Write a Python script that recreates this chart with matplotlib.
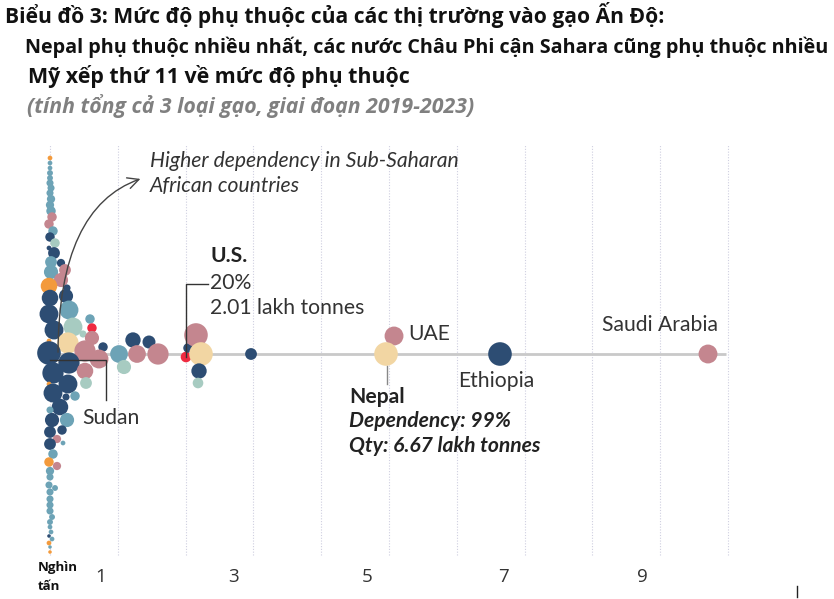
import matplotlib
matplotlib.use("Agg")
import matplotlib.pyplot as plt
from matplotlib.patches import FancyArrowPatch
from matplotlib import font_manager

# ---------------- data ----------------
NAVY, TEAL, LTEAL, MAUVE, CREAM, ORANGE, RED = (
    "#2d4d73", "#6da3b6", "#a7cbc1", "#c4868f", "#f2d6a3", "#f39a3c", "#ef2a40")

# x position (grid units), swarm offset, radius, colour for every country bubble
bub_x = [0.0, 0.0, 0.0, 0.0, 0.0, 0.0, 0.015, 0.0, 0.015, 0.0,
         0.015, 0.03, -0.015, 0.044, 0.0, 0.074, -0.015, 0.059, 0.015, 0.162,
         0.015, 0.221, 0.162, -0.015, 0.251, 0.0, 0.236, 0.28, -0.015, 0.339,
         0.059, 0.59, 0.619, 0.487, 0.619, 0.265, -0.015, -0.015, 0.516, 0.782,
         1.018, 0.723, 0.28, 1.091, 0.044, 0.516, 0.531, 0.265, -0.015, 0.044,
         0.236, 0.369, 0.147, 0.0, 0.03, 0.251, 0.0, 0.177, 0.103, 0.0,
         0.192, 0.044, -0.015, 0.103, 0.0, 0.0, -0.015, 0.074, 0.0, 0.0,
         0.0, 0.0, 0.03, 0.0, 0.0, 0.015, -0.015, 0.03, -0.015, 0.0,
         0.0,
         1.224, 1.283, 1.46, 1.593, 2.006, 2.035, 2.153, 2.227, 2.198, 2.183,
         2.965, 5.074, 4.956, 6.637, 9.705]
bub_y = [196, 191, 186, 181, 176, 171, 166, 161, 155, 149,
         143, 137, 130, 123, 117, 111, 106, 101, 92, 91,
         82, 84, 74, 68, 66, 56, 58, 44, 40, 27,
         24, 35, 26, 20, 16, 11, 13, 1, 3, 7,
         0, -5, -9, -13, -19, -17, -29, -30, -30, -39,
         -43, -42, -53, -56, -66, -66, -78, -76, -85, -90,
         -89, -100, -108, -112, -117, -123, -131, -134, -138, -145,
         -151, -157, -163, -168, -173, -178, -182, -185, -189, -193,
         -198,
         14, 0, 12, 0, -3, 6, 19, 0, -17, -29,
         0, 18, 0, 0, 0]
bub_r = [2, 2, 2, 2.5, 2.5, 3, 3, 3, 3.5, 3.5,
         4, 4, 4, 4, 4, 4, 2, 5, 5, 3.5,
         6, 5, 6, 7, 3, 7, 6, 8, 8, 8,
         8, 4, 4, 3, 6, 9, 2, 10, 9, 4,
         7.5, 8, 9, 6, 9, 7, 5, 8, 2, 8,
         3, 4, 7, 3, 6, 6, 5, 4, 3.5, 5,
         2, 4, 4, 3.5, 3.5, 3, 3, 2.5, 3, 3,
         3, 3, 2.5, 2.5, 2, 2, 1.5, 2, 2, 1.5,
         1.5,
         6.5, 7.5, 5.5, 9, 4.5, 4, 10, 10, 6.5, 4.5,
         5, 8, 10, 10, 8]
bub_c = [ORANGE, TEAL, TEAL, TEAL, TEAL, TEAL, TEAL, TEAL, TEAL, TEAL,
         TEAL, MAUVE, MAUVE, TEAL, NAVY, LTEAL, NAVY, NAVY, TEAL, NAVY,
         TEAL, MAUVE, MAUVE, ORANGE, NAVY, NAVY, NAVY, TEAL, NAVY, LTEAL,
         NAVY, TEAL, RED, LTEAL, MAUVE, CREAM, ORANGE, NAVY, MAUVE, NAVY,
         TEAL, MAUVE, NAVY, LTEAL, NAVY, MAUVE, LTEAL, NAVY, ORANGE, NAVY,
         NAVY, TEAL, NAVY, TEAL, NAVY, TEAL, NAVY, NAVY, MAUVE, NAVY,
         TEAL, TEAL, ORANGE, MAUVE, TEAL, TEAL, TEAL, TEAL, TEAL, TEAL,
         TEAL, TEAL, TEAL, TEAL, TEAL, TEAL, NAVY, TEAL, ORANGE, TEAL,
         ORANGE,
         NAVY, MAUVE, NAVY, MAUVE, RED, NAVY, MAUVE, CREAM, NAVY, LTEAL,
         NAVY, MAUVE, CREAM, NAVY, MAUVE]

tick_pos = [0.74, 2.7, 4.67, 6.69, 8.73]
tick_labels = ["1", "3", "5", "7", "9"]
grid_pos = list(range(0, 11))

title_lines = [
    "Biểu đồ 3: Mức độ phụ thuộc của các thị trường vào gạo Ấn Độ:",
    "Nepal phụ thuộc nhiều nhất, các nước Châu Phi cận Sahara cũng phụ thuộc nhiều",
    "Mỹ xếp thứ 11 về mức độ phụ thuộc",
    "(tính tổng cả 3 loại gạo, giai đoạn 2019-2023)",
]

# ---------------- figure ----------------
W, H, DPI = 834, 599, 100
fig = plt.figure(figsize=(W / DPI, H / DPI), dpi=DPI)
ax = fig.add_axes([0, 0, 1, 1])
PX0, UNIT, BASE = 50.0, 67.8, 354.0
ax.set_xlim((0 - PX0) / UNIT, (W - PX0) / UNIT)
ax.set_ylim(BASE - H, BASE)
ax.axis("off")


def X(px):
    return (px - PX0) / UNIT


def Y(py):
    return BASE - py


avail = {f.name for f in font_manager.fontManager.ttflist}
narrow = [f for f in ["Liberation Sans Narrow", "Open Sans"] if f in avail] + ["DejaVu Sans"]
body = [f for f in ["Lato", "Open Sans"] if f in avail] + ["DejaVu Sans"]

# gridlines and baseline
ax.vlines(grid_pos, Y(555), Y(145), colors="#cfcfe0", linestyles=(0, (1, 1.5)), lw=0.8, zorder=1)
ax.hlines(0, 0, X(726), colors="#c9c9c9", lw=2, zorder=2)

# bubbles
SCALE = 1.18
sizes = [(2 * r * SCALE * 72 / DPI) ** 2 for r in bub_r]
ax.scatter(bub_x, bub_y, s=sizes, c=bub_c, linewidths=0, zorder=3)

# annotation lines
lc = "#333333"
ax.plot([X(50), X(106), X(106)], [Y(360), Y(360), Y(400)], color=lc, lw=1, zorder=4)
ax.plot([X(186), X(186), X(208)], [Y(357), Y(284), Y(284)], color=lc, lw=1, zorder=4)
ax.plot([X(387), X(387)], [Y(366), Y(384)], color="#888888", lw=1, zorder=4)
ax.plot([X(797), X(797)], [Y(586), Y(597)], color="#222222", lw=1)

arr = FancyArrowPatch((X(58), Y(355)), (X(143), Y(178)),
                      connectionstyle="angle3,angleA=90,angleB=18",
                      arrowstyle="->,head_length=8,head_width=4",
                      color="#444444", lw=1, zorder=5)
ax.add_patch(arr)

tc = "#333333"
fs = 15.2
ax.text(X(150), Y(161), "Higher dependency in Sub-Saharan", family=body, style="italic",
        fontsize=fs, color=tc, va="center", ha="left")
ax.text(X(150), Y(186), "African countries", family=body, style="italic",
        fontsize=fs, color=tc, va="center", ha="left")
ax.text(X(210), Y(256), "U.S.", family=body, weight="bold", fontsize=fs, color="#222222",
        va="center", ha="left")
ax.text(X(210), Y(283), "20%", family=body, fontsize=fs, color=tc, va="center", ha="left")
ax.text(X(210), Y(308), "2.01 lakh tonnes", family=body, fontsize=fs, color=tc,
        va="center", ha="left")
ax.text(X(408), Y(334), "UAE", family=body, fontsize=fs, color=tc, va="center", ha="left")
ax.text(X(718), Y(325), "Saudi Arabia", family=body, fontsize=fs, color=tc, va="center", ha="right")
ax.text(X(458), Y(381), "Ethiopia", family=body, fontsize=fs, color=tc, va="center", ha="left")
ax.text(X(82), Y(418), "Sudan", family=body, fontsize=fs, color=tc, va="center", ha="left")
ax.text(X(349), Y(397), "Nepal", family=body, weight="bold", fontsize=fs, color="#222222",
        va="center", ha="left")
ax.text(X(349), Y(421), "Dependency: 99%", family=body, style="italic", weight="bold",
        fontsize=fs, color="#222222", va="center", ha="left")
ax.text(X(349), Y(446), "Qty: 6.67 lakh tonnes", family=body, style="italic", weight="bold",
        fontsize=fs, color="#222222", va="center", ha="left")

# tick labels
for p, lab in zip(tick_pos, tick_labels):
    ax.text(p, Y(577), lab, family=narrow, fontsize=13.5, color="#333333",
            ha="center", va="center")
ax.text(X(38), Y(568), "Nghìn", family=narrow, weight="bold", fontsize=9.5, color="#111111",
        ha="left", va="center")
ax.text(X(38), Y(586), "tấn", family=narrow, weight="bold", fontsize=9.5, color="#111111",
        ha="left", va="center")

# title block
tx = [5, 25, 28, 27]
ty = [15, 47, 77, 106]
tfs = [15.1, 14.2, 15.4, 15.3]
tcol = ["#111111", "#111111", "#111111", "#808080"]
tsty = ["normal", "normal", "normal", "italic"]
for s, x0, y0, f, col, st in zip(title_lines, tx, ty, tfs, tcol, tsty):
    fig.text(x0 / W, 1 - y0 / H, s, family=narrow, weight="bold", style=st, fontsize=f,
             color=col, ha="left", va="center")

fig.savefig("out.png", dpi=DPI)
